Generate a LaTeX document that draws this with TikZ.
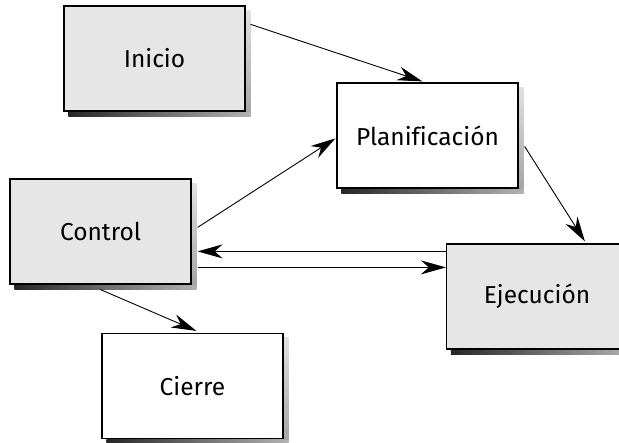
\documentclass[tikz,border=0pt]{standalone}
\usepackage{fontspec}
\setmainfont{Fira Sans}[Ligatures=NoCommon]
\usetikzlibrary{arrows.meta,calc,backgrounds}
\definecolor{boxgrey}{HTML}{E6E6E6}
\tikzset{
  box/.style={draw=black, line width=1.2pt, minimum width=181pt, minimum height=105pt, inner sep=0pt, font=\fontsize{24.5}{28}\selectfont},
  greybox/.style={box, fill=boxgrey},
  whitebox/.style={box, fill=white},
  conn/.style={line width=0.9pt, -{Stealth[length=25pt,width=14pt,inset=8pt]}},
}
\begin{document}
\begin{tikzpicture}[x=1pt,y=-1pt]
\useasboundingbox (0,0) rectangle (619,443);
\begin{scope}
\clip (0,0) rectangle (619,443);
\node[greybox]  (ini) at (154.5,58.5) {Inicio};
\node[whitebox] (pla) at (427.5,135.5) {Planificación};
\node[greybox]  (con) at (100.5,231.5) {Control};
\node[greybox]  (eje) at (537,296.5) {Ejecución};
\node[whitebox] (cie) at (192.5,386) {Cierre};
\begin{scope}[on background layer]
\foreach \n in {ini,pla,con,eje,cie}{
  \shade[left color=black!85, right color=black!30] ($(\n.south west)+(5,0)$) rectangle ($(\n.south east)+(5,5)$);
  \shade[top color=black!12, bottom color=black!35] ($(\n.north east)+(0,5)$) rectangle ($(\n.south east)+(5,0)$);
}
\end{scope}
\draw[conn] ($(ini.north east)+(5,19)$) -- ($(pla.north west)+(86,-1)$);
\draw[conn] ($(con.north east)+(6,49)$) -- ($(pla.north west)+(-1,56)$);
\draw[conn] ($(pla.north east)+(6,64)$) -- ($(eje.north west)+(139,-2)$);
\draw[conn] ($(eje.north west)+(0,8)$) -- ($(con.north east)+(6,73)$);
\draw[conn] ($(con.north east)+(6,89)$) -- ($(eje.north west)+(0,24)$);
\draw[conn] ($(con.south)+(0,5)$) -- ($(cie.north west)+(95,-2)$);
\end{scope}
\end{tikzpicture}
\end{document}
